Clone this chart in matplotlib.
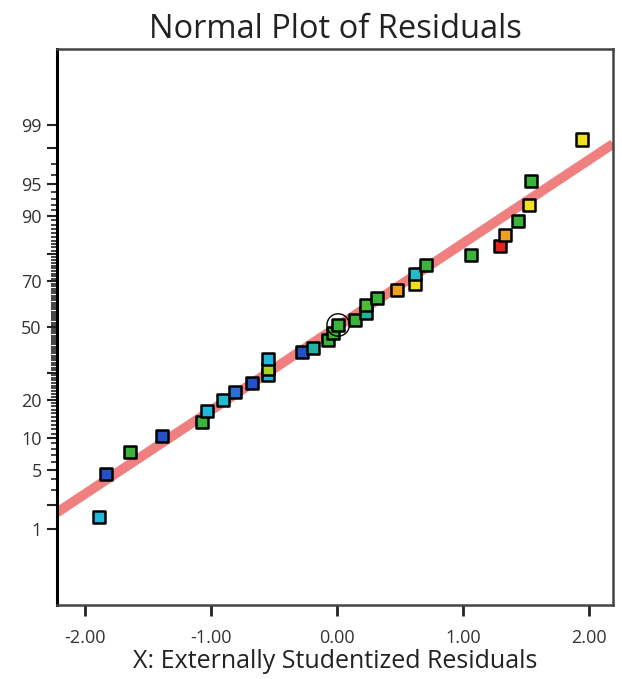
import matplotlib
matplotlib.use("Agg")
import matplotlib.pyplot as plt
from statistics import NormalDist

# externally studentized residuals (x) and normal % probability (y)
resid = [-1.89, -1.83, -1.64, -1.39, -1.07, -1.03, -0.90, -0.81, -0.67, -0.55,
         -0.55, -0.55, -0.28, -0.19, -0.07, -0.03, 0.01, 0.14, 0.23, 0.23,
         0.32, 0.48, 0.62, 0.62, 0.71, 1.06, 1.29, 1.33, 1.44, 1.52, 1.54, 1.94]
prob = [1.44, 4.5, 7.5, 10.5, 13.7, 16.8, 19.9, 22.8, 26.1, 29.0,
        31.3, 35.6, 38.6, 40.4, 44.0, 47.2, 50.9, 53.2, 56.4, 60.0,
        63.1, 66.3, 69.0, 72.9, 76.2, 79.7, 82.5, 85.5, 88.8, 92.0, 95.4, 98.45]
colors = ["#22b8dc", "#2450c8", "#3cb43c", "#2450c8", "#3cb43c", "#22b8dc", "#22bcd0", "#2d6fd6",
          "#2450c8", "#22b8dc", "#a8d028", "#22b8dc", "#2450c8", "#20b4a0", "#3cb43c", "#3cb43c",
          "#3cb43c", "#3cb43c", "#20b4a0", "#4cbc34", "#3cb43c", "#f0a020", "#f0e020", "#22bcc8",
          "#3cb43c", "#3cb43c", "#e82020", "#f0a020", "#3cb43c", "#f0e020", "#3cb43c", "#f0e020"]
circled = 16  # index of the highlighted point

# fitted reference line: z = slope * x + intercept
slope = 0.962
intercept = 0.0

labeled = [1, 5, 10, 20, 50, 70, 90, 95, 99]
unlabeled = [2, 30, 80, 98]
minor = [p for p in range(1, 100) if p not in labeled + unlabeled]

xticks = [-2, -1, 0, 1, 2]
xlabels = ["-2.00", "-1.00", "0.00", "1.00", "2.00"]

nd = NormalDist()
z = lambda p: nd.inv_cdf(p / 100.0)

plt.rcParams["font.family"] = ["Open Sans", "DejaVu Sans"]
fig = plt.figure(figsize=(6.22, 6.79), dpi=100)
ax = fig.add_axes([0.0916, 0.109, 0.894, 0.819])

xmin, xmax = -2.22, 2.19
ax.plot([xmin, xmax], [slope * xmin + intercept, slope * xmax + intercept],
        color="#f08080", lw=7, solid_capstyle="butt", zorder=1)
ax.scatter(resid, [z(p) for p in prob], s=75, marker="s", c=colors,
           edgecolors="black", linewidths=1.8, zorder=3)
ax.scatter([resid[circled]], [z(prob[circled])], s=260, marker="o",
           facecolors="none", edgecolors="black", linewidths=1.0, zorder=4)

ax.set_xlim(xmin, xmax)
ax.set_ylim(-3.2, 3.2)
ax.set_xticks(xticks)
ax.set_xticklabels(xlabels)
ax.set_yticks([z(p) for p in sorted(labeled + unlabeled)])
ax.set_yticklabels([str(p) if p in labeled else "" for p in sorted(labeled + unlabeled)])
ax.set_yticks([z(p) for p in minor], minor=True)

ax.tick_params(axis="x", length=8, width=2, pad=9, colors="#222222", labelsize=13, labelcolor="#333333")
ax.tick_params(axis="y", which="major", length=7, width=1.5, pad=4, colors="#222222",
               labelsize=13, labelcolor="#333333")
ax.tick_params(axis="y", which="minor", length=4, width=1.2, colors="#222222")

for side in ["top", "right", "bottom"]:
    ax.spines[side].set_color("#444444")
    ax.spines[side].set_linewidth(1.8)
ax.spines["left"].set_color("black")
ax.spines["left"].set_linewidth(2.2)

ax.set_title("Normal Plot of Residuals", fontsize=23.5, color="#222222", pad=8)
ax.set_xlabel("X: Externally Studentized Residuals", fontsize=18, color="#222222", labelpad=2)

fig.savefig("out.png", dpi=100)
